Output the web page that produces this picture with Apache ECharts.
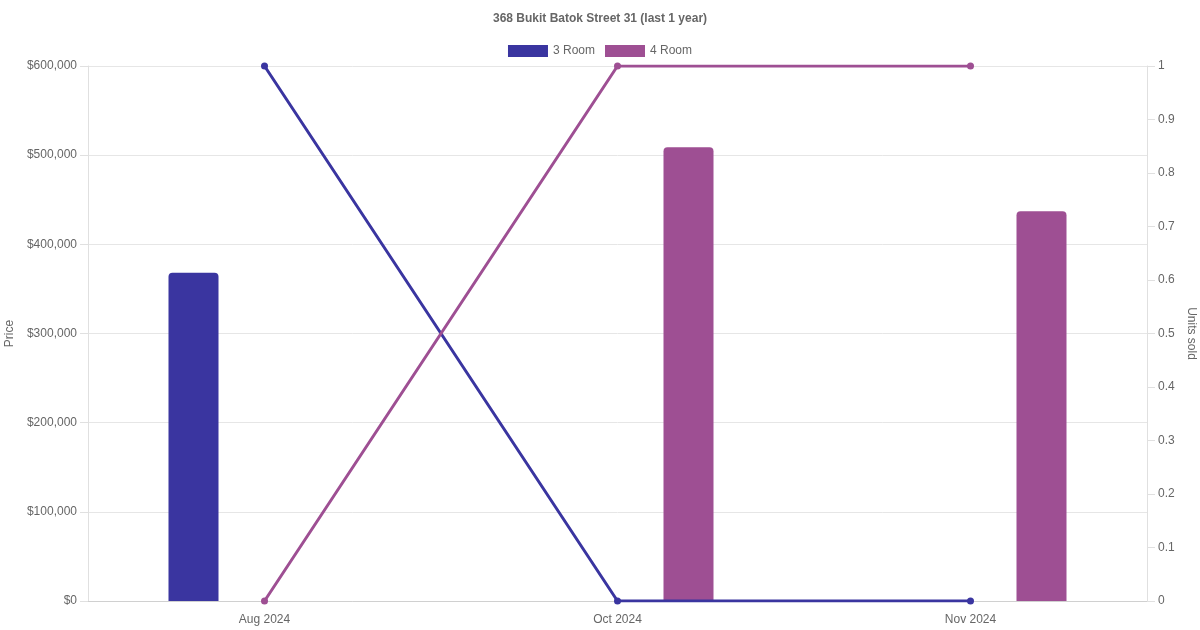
<!DOCTYPE html>
<html>
<head>
<meta charset="utf-8">
<script src="https://cdn.jsdelivr.net/npm/echarts@6/dist/echarts.min.js"></script>
<style>html,body{margin:0;padding:0;background:#fff}#c{width:1200px;height:630px}</style>
</head>
<body>
<div id="c"></div>
<script>
const categories = ['Aug 2024', 'Oct 2024', 'Nov 2024'];
const price3Room = [368000, null, null];
const price4Room = [null, 509000, 437000];
const units3Room = [1, 0, 0];
const units4Room = [0, 1, 1];
const seriesNames = ['3 Room', '4 Room'];
const colors = ['#3a35a0', '#9e4f93'];

const chart = echarts.init(document.getElementById('c'));
const font = 'Liberation Sans, Arial, Helvetica, sans-serif';
chart.setOption({
  animation: false,
  textStyle: { fontFamily: font },
  title: {
    text: '368 Bukit Batok Street 31 (last 1 year)',
    left: 'center', top: 8,
    textStyle: { fontSize: 12, fontWeight: 'bold', color: '#666', fontFamily: font }
  },
  legend: {
    data: seriesNames, top: 40, left: 'center',
    icon: 'rect', itemWidth: 40, itemHeight: 12, itemGap: 10,
    textStyle: { fontSize: 12, color: '#666', fontFamily: font }
  },
  grid: { left: 88, right: 53, top: 66, bottom: 29, containLabel: false, outerBoundsMode: 'none' },
  xAxis: {
    type: 'category', data: categories,
    axisLine: { lineStyle: { color: '#d0d0d0' } },
    axisTick: { show: false },
    axisLabel: { color: '#666', fontSize: 12, margin: 13, fontFamily: font }
  },
  yAxis: [
    {
      type: 'value', min: 0, max: 600000, interval: 100000,
      name: 'Price', nameLocation: 'middle', nameGap: 70, nameRotate: 90,
      nameTextStyle: { color: '#666', fontSize: 12, fontFamily: font },
      axisLine: { show: true, lineStyle: { color: '#e0e0e0' } },
      axisTick: { show: true, length: 8, lineStyle: { color: '#e0e0e0' } },
      axisLabel: { color: '#666', fontSize: 12, margin: 11, fontFamily: font,
        formatter: v => '$' + v.toLocaleString('en-US') },
      splitLine: { lineStyle: { color: '#e6e6e6' } }
    },
    {
      type: 'value', min: 0, max: 1, interval: 0.1, position: 'right',
      name: 'Units sold', nameLocation: 'middle', nameGap: 33, nameRotate: -90,
      nameTextStyle: { color: '#666', fontSize: 12, fontFamily: font },
      axisLine: { show: true, lineStyle: { color: '#e0e0e0' } },
      axisTick: { show: true, length: 8, lineStyle: { color: '#e0e0e0' } },
      axisLabel: { color: '#666', fontSize: 12, margin: 11, fontFamily: font,
        formatter: v => String(Math.round(v * 10) / 10) },
      splitLine: { show: false }
    }
  ],
  series: [
    { name: seriesNames[0], type: 'bar', data: price3Room, barWidth: 50, barGap: '184%',
      itemStyle: { color: colors[0], borderRadius: [4, 4, 0, 0] } },
    { name: seriesNames[1], type: 'bar', data: price4Room, barWidth: 50, barGap: '184%',
      itemStyle: { color: colors[1], borderRadius: [4, 4, 0, 0] } },
    { name: seriesNames[0], type: 'line', yAxisIndex: 1, data: units3Room, z: 5,
      symbol: 'circle', symbolSize: 7, showSymbol: true,
      lineStyle: { color: colors[0], width: 3 }, itemStyle: { color: colors[0] } },
    { name: seriesNames[1], type: 'line', yAxisIndex: 1, data: units4Room, z: 5,
      symbol: 'circle', symbolSize: 7, showSymbol: true,
      lineStyle: { color: colors[1], width: 3 }, itemStyle: { color: colors[1] } }
  ]
});
</script>
</body>
</html>
